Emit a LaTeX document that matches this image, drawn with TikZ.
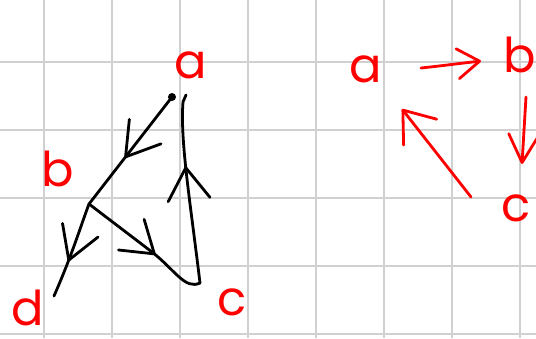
\documentclass[tikz,border=0pt]{standalone}
\usepackage{fontspec}
\newfontfamily\poppins{Poppins}
\usetikzlibrary{arrows.meta,decorations.markings}
\definecolor{gridgray}{RGB}{208,208,208}
\definecolor{inkred}{RGB}{255,0,0}
\begin{document}
\begin{tikzpicture}[x=1pt,y=-1pt,line cap=round,line join=round,
  lbl/.style={text=inkred,font=\poppins\fontsize{48}{48}\selectfont,inner sep=0pt,anchor=base},
  gridline/.style={draw=gridgray,line width=2pt,line cap=butt},
  blk/.style={color=black,line width=2.8pt},
  rd/.style={color=inkred,line width=2.8pt},
  midarr/.style n args={3}{postaction={decorate},decoration={markings,
      mark=at position #1 with {\arrow{Straight Barb[length=#2pt,width=#3pt,round]}}}},
  endarr/.style 2 args={-{Straight Barb[length=#1pt,width=#2pt,round]}}]
\useasboundingbox (0,0) rectangle (536,338);
\clip (0,0) rectangle (536,338);
\fill[white] (0,0) rectangle (536,338);
% grid
\foreach \gx in {44,112,180,248,316,384,452,520} \draw[gridline] (\gx,0) -- (\gx,338);
\foreach \gy in {62,130,198,266,334} \draw[gridline] (0,\gy) -- (536,\gy);
% left graph: vertices
\coordinate (A) at (172,97);
\coordinate (B) at (89,204);
\coordinate (C) at (200,283);
\coordinate (D) at (54,296);
\coordinate (Atop) at (186,95);
% labels
\node[lbl] (la) at (191,78) {a};
\node[lbl] (lb) at (58,186) {b};
\node[lbl] (lc) at (232,315) {c};
\node[lbl] (ld) at (28,325) {d};
% edges
\fill[black] (A) circle (4pt);
\draw[blk,midarr={0.57}{32}{40}] (A) -- (B);
\draw[blk,midarr={0.62}{32}{38}] (B) .. controls (80,228) and (72,255) .. (D);
\draw[blk,midarr={0.6}{30}{40}] (B) -- (152,252) .. controls (175,270) and (185,290) .. (C);
\draw[blk,midarr={0.62}{32}{42}] (C) .. controls (190,200) and (180,140) .. (183,102) -- (Atop);
% right graph
\node[lbl] (ra) at (366,82) {a};
\node[lbl] (rb) at (520,72) {b};
\node[lbl] (rc) at (516,221) {c};
\coordinate (ra-out) at (421,68);
\coordinate (rb-in) at (481,61);
\coordinate (rb-out) at (526,97);
\coordinate (rc-in) at (522,164);
\coordinate (rc-out) at (471,197);
\coordinate (ra-in) at (402,109);
\draw[rd,endarr={22}{30}] (ra-out) .. controls (440,66) and (455,64) .. (rb-in);
\draw[rd,endarr={28}{30}] (rb-out) -- (rc-in);
\draw[rd,endarr={28}{42}] (rc-out) -- (ra-in);
\end{tikzpicture}
\end{document}
